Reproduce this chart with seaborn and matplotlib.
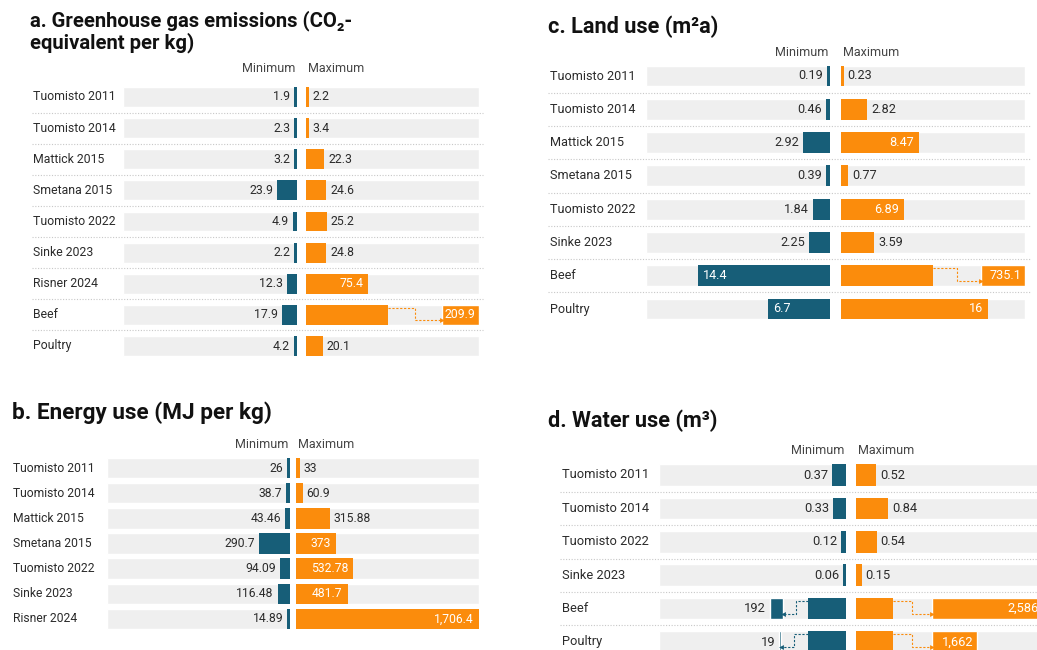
import matplotlib
matplotlib.use("Agg")
import matplotlib.pyplot as plt
import seaborn as sns
import pandas as pd

# a. Greenhouse gas emissions
ghg_studies = ["Tuomisto 2011", "Tuomisto 2014", "Mattick 2015", "Smetana 2015",
               "Tuomisto 2022", "Sinke 2023", "Risner 2024", "Beef", "Poultry"]
ghg_min = [1.9, 2.3, 3.2, 23.9, 4.9, 2.2, 12.3, 17.9, 4.2]
ghg_max = [2.2, 3.4, 22.3, 24.6, 25.2, 24.8, 75.4, 209.9, 20.1]

# b. Energy use
energy_studies = ["Tuomisto 2011", "Tuomisto 2014", "Mattick 2015", "Smetana 2015",
                  "Tuomisto 2022", "Sinke 2023", "Risner 2024"]
energy_min = [26, 38.7, 43.46, 290.7, 94.09, 116.48, 14.89]
energy_max = [33, 60.9, 315.88, 373, 532.78, 481.7, 1706.4]

# c. Land use
land_studies = ["Tuomisto 2011", "Tuomisto 2014", "Mattick 2015", "Smetana 2015",
                "Tuomisto 2022", "Sinke 2023", "Beef", "Poultry"]
land_min = [0.19, 0.46, 2.92, 0.39, 1.84, 2.25, 14.4, 6.7]
land_max = [0.23, 2.82, 8.47, 0.77, 6.89, 3.59, 735.1, 16]

# d. Water use
water_studies = ["Tuomisto 2011", "Tuomisto 2014", "Tuomisto 2022", "Sinke 2023",
                 "Beef", "Poultry"]
water_min = [0.37, 0.33, 0.12, 0.06, 192, 19]
water_max = [0.52, 0.84, 0.54, 0.15, 2586, 1662]

TEAL = "#175e78"
ORANGE = "#fb8c0c"
BG = "#efefef"
TEXT = "#2b2b2b"

W, H = 1037, 650


def fx(px):
    return px / W


def fy(py):
    return 1 - py / H


def fmt(v):
    return format(v, ",g")


# layout of each panel in pixels; breaks = (cut, box start, box end) as share of the axis
panels = [
    dict(title="a. Greenhouse gas emissions (CO₂-\nequivalent per kg)", title_xy=(30, 10),
         title_fs=14.6, fs=8.8,
         labels=ghg_studies, mins=ghg_min, maxs=ghg_max, rng=210, rows=(97, 346),
         left=(123, 297), right=(306, 479), bar_h=0.64, label_x=33, header_y=68,
         seps=(32, 483), breaks={("max", 7): (0.474, 0.786, 1.0)}),
    dict(title="b. Energy use (MJ per kg)", title_xy=(12, 401), title_fs=16.2, fs=8.7,
         labels=energy_studies, mins=energy_min, maxs=energy_max, rng=1710, rows=(468, 619),
         left=(107, 290), right=(296, 479), bar_h=0.82, label_x=13, header_y=444,
         seps=None, breaks={}),
    dict(title="c. Land use (m²a)", title_xy=(548, 15), title_fs=15.6, fs=9.1,
         labels=land_studies, mins=land_min, maxs=land_max, rng=20, rows=(76, 309),
         left=(646, 830), right=(841, 1025), bar_h=0.63, label_x=550, header_y=52,
         seps=(548, 1030), breaks={("max", 6): (0.5, 0.76, 1.0)}),
    dict(title="d. Water use (m³)", title_xy=(548, 410), title_fs=15.6, fs=9.3,
         labels=water_studies, mins=water_min, maxs=water_max, rng=4.9, rows=(475, 642),
         left=(659, 846), right=(856, 1043), bar_h=0.65, label_x=562, header_y=451,
         seps=(560, 1037), breaks={("min", 4): (0.203, 0.337, 0.406),
                                   ("min", 5): (0.203, 0.348, 0.358),
                                   ("max", 4): (0.198, 0.406, 1.0),
                                   ("max", 5): (0.198, 0.406, 0.647)}),
]

sns.set_theme(style="white")
plt.rcParams["font.family"] = ["Roboto", "DejaVu Sans"]

fig = plt.figure(figsize=(W / 100, H / 100), dpi=100)

for p in panels:
    labels = p["labels"]
    n = len(labels)
    r0, r1 = p["rows"]
    step = (r1 - r0) / (n - 1)
    top, bot = r0 - step / 2, r1 + step / 2
    R = p["rng"]
    h = p["bar_h"]
    fs = p["fs"]

    for side, (x0, x1), color in (("min", p["left"], TEAL), ("max", p["right"], ORANGE)):
        ax = fig.add_axes([fx(x0), fy(bot), fx(x1) - fx(x0), (bot - top) / H])
        values = p[side + "s"]
        ppu = (x1 - x0) / R
        shown = []
        for i, v in enumerate(values):
            if (side, i) in p["breaks"]:
                shown.append(p["breaks"][(side, i)][0] * R)
            else:
                shown.append(max(v, 2.6 / ppu))
        df = pd.DataFrame({"study": labels, "shown": shown})

        ax.barh(range(n), [R] * n, height=h, color=BG, zorder=0)
        sns.barplot(data=df, x="shown", y="study", order=labels, orient="h",
                    color=color, saturation=1, width=h, linewidth=0, ax=ax, zorder=2)

        for i, v in enumerate(values):
            key = (side, i)
            if key in p["breaks"]:
                cut, b0, b1 = p["breaks"][key]
                ax.barh(i, (b1 - b0) * R, left=b0 * R, height=h, color=color, zorder=2)
                xm = (cut + 0.5 * (b0 - cut)) * R
                yt = i - h / 2 + 0.15 * h
                yl = i - h / 2 + 0.75 * h
                ax.plot([cut * R, xm, xm, b0 * R], [yt, yt, yl, yl], color=color,
                        lw=0.8, ls=(0, (2, 1.5)), zorder=3, clip_on=False)
                ax.plot([b0 * R], [yl], marker=">" if side == "max" else "<",
                        ms=3.5, color=color, mew=0, zorder=3, clip_on=False)
                if side == "max":
                    ax.annotate(fmt(v), (b1 * R, i), xytext=(-4, 0), textcoords="offset pixels",
                                ha="right", va="center", color="white", fontsize=fs,
                                annotation_clip=False)
                else:
                    ax.annotate(fmt(v), (b1 * R, i), xytext=(-4, 0), textcoords="offset pixels",
                                ha="right", va="center", color=TEXT, fontsize=fs,
                                annotation_clip=False)
                continue
            inside = shown[i] * ppu > 36
            if side == "max":
                dx, ha = (-5, "right") if inside else (4, "left")
            else:
                dx, ha = (5, "left") if inside else (-4, "right")
            ax.annotate(fmt(v), (shown[i], i), xytext=(dx, 0), textcoords="offset pixels",
                        ha=ha, va="center", color="white" if inside else TEXT,
                        fontsize=fs, annotation_clip=False)

        ax.set_xlim((R, 0) if side == "min" else (0, R))
        ax.set_ylim(n - 0.5, -0.5)
        ax.axis("off")

    # row labels
    for i, lab in enumerate(labels):
        fig.text(fx(p["label_x"]), fy(r0 + i * step), lab, ha="left", va="center",
                 fontsize=fs, color=TEXT)

    # dotted separators
    if p["seps"]:
        sx0, sx1 = p["seps"]
        for i in range(n - 1):
            yy = fy(r0 + (i + 0.5) * step)
            fig.add_artist(plt.Line2D([fx(sx0), fx(sx1)], [yy, yy], color="#c8c8c8",
                                      lw=0.8, ls=(0, (1, 1.5))))

    # headers
    fig.text(fx(p["left"][1] - 2), fy(p["header_y"]), "Minimum", ha="right", va="center",
             fontsize=9, color="#444444")
    fig.text(fx(p["right"][0] + 2), fy(p["header_y"]), "Maximum", ha="left", va="center",
             fontsize=9, color="#444444")

    # title
    tx, ty = p["title_xy"]
    fig.text(fx(tx), fy(ty), p["title"], ha="left", va="top", fontsize=p["title_fs"],
             fontweight="bold", color="#111111", linespacing=1.1)

fig.savefig("out.png", dpi=100, facecolor="white")
